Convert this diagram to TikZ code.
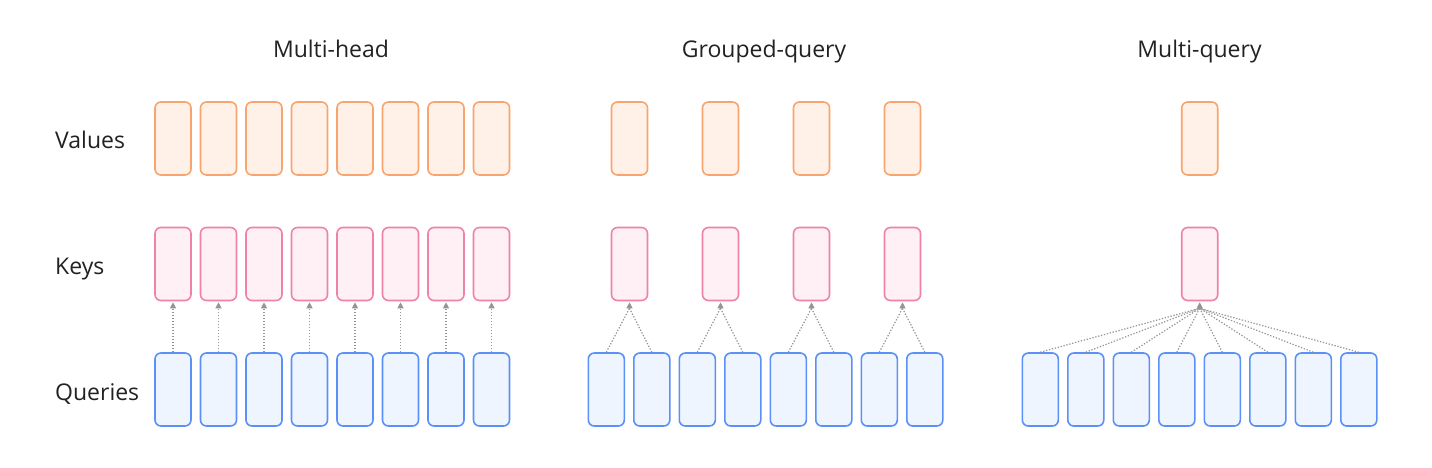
\documentclass[tikz,border=0pt]{standalone}
\usepackage{fontspec}
\setmainfont{Open Sans}
\usetikzlibrary{arrows.meta}
\definecolor{vstroke}{HTML}{F7A46E}
\definecolor{vfill}{HTML}{FFF1E7}
\definecolor{kstroke}{HTML}{EF82A8}
\definecolor{kfill}{HTML}{FFF0F6}
\definecolor{qstroke}{HTML}{5B90F6}
\definecolor{qfill}{HTML}{EEF5FF}
\definecolor{arrowgray}{HTML}{959595}
\definecolor{textgray}{HTML}{222222}
\tikzset{
  headbox/.style={rectangle, rounded corners=6pt, line width=1.6pt, inner sep=0pt,
    minimum width=36pt, minimum height=73pt},
  vbox/.style={headbox, draw=vstroke, fill=vfill},
  kbox/.style={headbox, draw=kstroke, fill=kfill},
  qbox/.style={headbox, draw=qstroke, fill=qfill},
  dotline/.style={draw=arrowgray, line width=1.2pt, dash pattern=on 1.3pt off 1.7pt},
  link/.style={dotline, -{Triangle[length=6pt,width=6pt]}, shorten >=1pt},
  tiponly/.style={draw=arrowgray, line width=0.8pt, -{Triangle[length=6pt,width=6pt]}, shorten >=1pt},
  title/.style={anchor=base, text=textgray, font=\fontsize{23}{28}\selectfont, inner sep=0pt},
  rowlabel/.style={anchor=base west, text=textgray, font=\fontsize{23}{28}\selectfont, inner sep=0pt}
}
\begin{document}
\begin{tikzpicture}[x=1pt,y=-1pt]
\useasboundingbox (0,0) rectangle (1432,467);
\fill[white] (0,0) rectangle (1432,467);
% titles
\node[title] (t1) at (331,57.7) {Multi-head};
\node[title] (t2) at (764,57.7) {Grouped-query};
\node[title] (t3) at (1199.5,57.7) {Multi-query};
% row labels
\node[rowlabel] (lv) at (55,148.3) {Values};
\node[rowlabel] (lk) at (55,274.3) {Keys};
\node[rowlabel] (lq) at (55,400) {Queries};
% multi-head
\foreach \i in {0,...,7}{
  \node[vbox] (mhv\i) at ({173+45.5*\i},138.5) {};
  \node[kbox] (mhk\i) at ({173+45.5*\i},264) {};
  \node[qbox] (mhq\i) at ({173+45.5*\i},389.5) {};
  \draw[link] (mhq\i.north) -- (mhk\i.south);
}
% grouped-query
\foreach \j in {0,...,3}{
  \node[vbox] (gqv\j) at ({629.5+91*\j},138.5) {};
  \node[kbox] (gqk\j) at ({629.5+91*\j},264) {};
  \coordinate (gqa\j) at ([yshift=-7pt]gqk\j.south);
  \draw[tiponly] (gqa\j) -- (gqk\j.south);
}
\foreach \i in {0,...,7}{
  \node[qbox] (gqq\i) at ({606.3+45.5*\i},389.5) {};
  \pgfmathtruncatemacro{\g}{int(\i/2)}
  \draw[dotline] (gqq\i.north) -- (gqa\g);
}
% multi-query
\node[vbox] (mqv) at (1199.7,138.5) {};
\node[kbox] (mqk) at (1199.7,264) {};
\coordinate (mqa) at ([yshift=-7pt]mqk.south);
\draw[tiponly] (mqa) -- (mqk.south);
\foreach \i in {0,...,7}{
  \node[qbox] (mqq\i) at ({1040.3+45.5*\i},389.5) {};
  \draw[dotline] (mqq\i.north) -- (mqa);
}
\end{tikzpicture}
\end{document}
